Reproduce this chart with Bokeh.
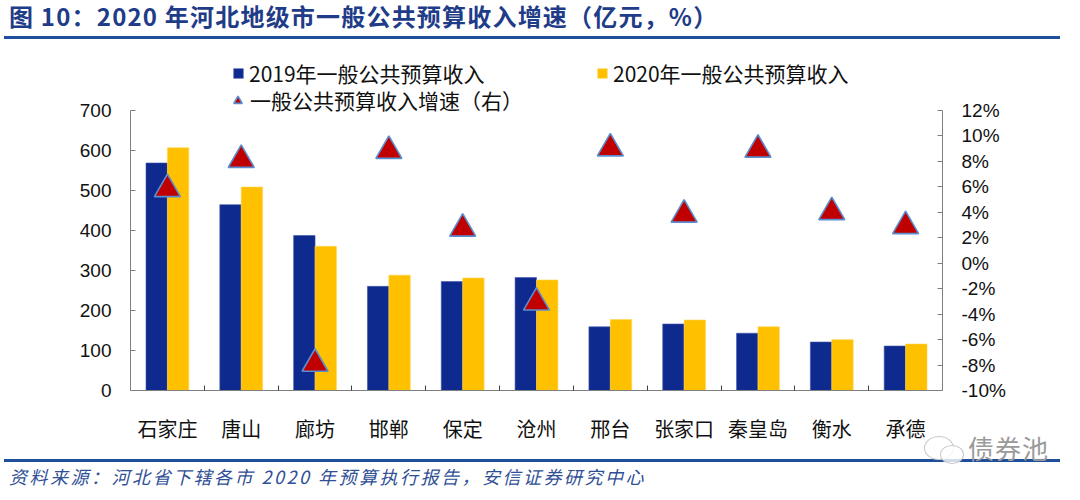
from bokeh.plotting import figure
from bokeh.layouts import column
from bokeh.models import (Range1d, LinearAxis, FixedTicker, PrintfTickFormatter,
                          CustomJSTickFormatter, Legend, LegendItem, ColumnDataSource, Div)
from bokeh.transform import dodge
from bokeh.embed import file_html
from bokeh.resources import INLINE

# ---- data ----
cities = ["石家庄", "唐山", "廊坊", "邯郸", "保定", "沧州", "邢台", "张家口", "秦皇岛", "衡水", "承德"]
rev2019 = [568, 464, 387, 260, 272, 282, 159, 166, 143, 121, 111]
rev2020 = [606, 508, 360, 288, 281, 276, 177, 176, 159, 127, 116]
growth = [5.8, 8.1, -7.9, 8.8, 2.7, -3.1, 9.0, 3.8, 8.9, 4.0, 2.9]
left_ticks = [0, 100, 200, 300, 400, 500, 600, 700]
right_ticks = [-10, -8, -6, -4, -2, 0, 2, 4, 6, 8, 10, 12]

title_text = "图 10：2020 年河北地级市一般公共预算收入增速（亿元，%）"
source_text = "资料来源：河北省下辖各市 2020 年预算执行报告，安信证券研究中心"
watermark = "债券池"
name2019 = "2019年一般公共预算收入"
name2020 = "2020年一般公共预算收入"
name_growth = "一般公共预算收入增速（右）"

BLUE = "#0F2A8F"
YELLOW = "#FFC000"
RED = "#C00000"
RULE = "#1F4E9A"
CJK = "Noto Sans CJK SC"
LAT = "Liberation Sans"

src = ColumnDataSource(dict(x=[i + 0.5 for i in range(len(cities))],
                            city=cities, r19=rev2019, r20=rev2020, g=growth))

# ---- layout geometry (page px) ----
W = 1064
TITLE_H = 42
FIG_TOP = TITLE_H
AX_TOP = 111          # where 700 / 12% sit
AX_BOT = 397          # x axis line
FIG_BOT = 445
SRC_H = 39
ML = 130
MR = W - 942

FRAME_H = AX_BOT - FIG_TOP
AXIS_H = AX_BOT - AX_TOP
l_lo, l_hi = left_ticks[0], left_ticks[-1]
r_lo, r_hi = right_ticks[0], right_ticks[-1]
y_end = l_lo + (l_hi - l_lo) * FRAME_H / AXIS_H
r_end = r_lo + (r_hi - r_lo) * FRAME_H / AXIS_H

p = figure(width=W, height=FIG_BOT - FIG_TOP, output_backend="svg", toolbar_location=None,
           x_range=Range1d(0, len(cities)), y_range=Range1d(l_lo, y_end),
           min_border_left=ML, min_border_right=MR, min_border_top=0,
           min_border_bottom=FIG_BOT - AX_BOT,
           x_axis_type=None, y_axis_type=None, margin=0)
p.outline_line_color = None
p.xgrid.visible = False
p.ygrid.visible = False
p.extra_y_ranges = {"pct": Range1d(r_lo, r_end)}

r19 = p.vbar(x=dodge("x", -0.145), top="r19", width=0.29, source=src,
             fill_color=BLUE, line_color="#3F55A8", line_width=0.6)
r20 = p.vbar(x=dodge("x", 0.145), top="r20", width=0.29, source=src,
             fill_color=YELLOW, line_color="#FFD54F", line_width=0.6)
rg = p.scatter(x="x", y="g", source=src, y_range_name="pct", marker="triangle",
               size=26, fill_color=RED, line_color="#5B8ED0", line_width=1.6)

axis_color = "#7F7F7F"

# bottom axis
xa = LinearAxis(ticker=FixedTicker(ticks=[i + 0.5 for i in range(len(cities))],
                                   minor_ticks=list(range(1, len(cities)))),
                formatter=CustomJSTickFormatter(args=dict(c=cities),
                                                code="return c[Math.floor(tick)] || ''"))
xa.axis_line_color = axis_color
xa.major_tick_line_color = None
xa.minor_tick_line_color = "#404040"
xa.minor_tick_in = 5
xa.minor_tick_out = 0
xa.major_label_text_font = CJK
xa.major_label_text_font_size = "20px"
xa.major_label_text_color = "#111111"
xa.major_label_standoff = 17
p.add_layout(xa, "below")

# left axis
ya = LinearAxis(ticker=FixedTicker(ticks=left_ticks), bounds=(l_lo, l_hi))
ya.axis_line_color = axis_color
ya.major_tick_line_color = axis_color
ya.major_tick_in = 5
ya.major_tick_out = 0
ya.minor_tick_line_color = None
ya.major_label_text_font = LAT
ya.major_label_text_font_size = "19px"
ya.major_label_text_color = "#111111"
ya.major_label_standoff = 19
p.add_layout(ya, "left")

# right axis
yr = LinearAxis(y_range_name="pct", ticker=FixedTicker(ticks=right_ticks),
                formatter=PrintfTickFormatter(format="%d%%"), bounds=(r_lo, r_hi))
yr.axis_line_color = axis_color
yr.major_tick_line_color = axis_color
yr.major_tick_in = 5
yr.major_tick_out = 0
yr.minor_tick_line_color = None
yr.major_label_text_font = LAT
yr.major_label_text_font_size = "19px"
yr.major_label_text_color = "#111111"
yr.major_label_standoff = 19
p.add_layout(yr, "right")


def make_legend(item, loc, glyph=12, standoff=5):
    lg = Legend(items=[item], location=loc)
    lg.padding = 0
    lg.margin = 0
    lg.border_line_color = None
    lg.background_fill_alpha = 0
    lg.label_text_font = CJK
    lg.label_text_font_size = "21px"
    lg.label_text_color = "#111111"
    lg.glyph_width = glyph
    lg.glyph_height = glyph
    lg.label_standoff = standoff
    lg.spacing = 0
    lg.label_height = 20
    return lg


# legend positions: (left px from frame left, bottom px above x axis line)
p.add_layout(make_legend(LegendItem(label=name2019, renderers=[r19]),
                         (232 - ML, AX_BOT - 95)), "center")
p.add_layout(make_legend(LegendItem(label=name2020, renderers=[r20]),
                         (596 - ML, AX_BOT - 95)), "center")
p.add_layout(make_legend(LegendItem(label=name_growth, renderers=[rg]),
                         (227 - ML, AX_BOT - 122), glyph=21, standoff=2), "center")

title_div = Div(
    text=(f'<div style="position:relative;width:{W}px;height:{TITLE_H}px;">'
          f'<div style="position:absolute;left:9px;top:1px;white-space:nowrap;'
          f'font-family:\'{CJK}\';font-weight:bold;font-size:24px;line-height:30px;'
          f'letter-spacing:1.2px;color:#1F3C88;">{title_text}</div>'
          f'<div style="position:absolute;left:4px;top:36px;width:1056px;height:3px;'
          f'background:{RULE};"></div></div>'),
    width=W, height=TITLE_H, margin=0)

icon = ('<div style="position:absolute;left:924px;top:-9px;width:30px;height:24px;'
        'border:1.5px solid #C8C8C8;border-radius:50%;background:rgba(255,255,255,0.6);"></div>'
        '<div style="position:absolute;left:940px;top:0px;width:24px;height:19px;'
        'border:1.5px solid #C8C8C8;border-radius:50%;background:rgba(255,255,255,0.8);"></div>')

src_div = Div(
    text=(f'<div style="position:relative;width:{W}px;height:{SRC_H}px;">'
          f'<div style="position:absolute;left:4px;top:14px;width:1056px;height:3px;'
          f'background:{RULE};"></div>'
          + icon +
          f'<div style="position:absolute;left:968px;top:-12px;white-space:nowrap;'
          f'font-family:\'{CJK}\';font-size:26px;line-height:30px;color:#9A9A9A;'
          f'letter-spacing:1px;">{watermark}</div>'
          f'<div style="position:absolute;left:9px;top:20px;white-space:nowrap;'
          f'font-family:\'{CJK}\';font-style:italic;font-size:18px;line-height:22px;'
          f'letter-spacing:2.5px;color:#2F4F96;">{source_text}</div></div>'),
    width=W, height=SRC_H, margin=0)

layout = column(title_div, p, src_div, spacing=0)

open("out.html", "w").write(file_html(layout, INLINE))
